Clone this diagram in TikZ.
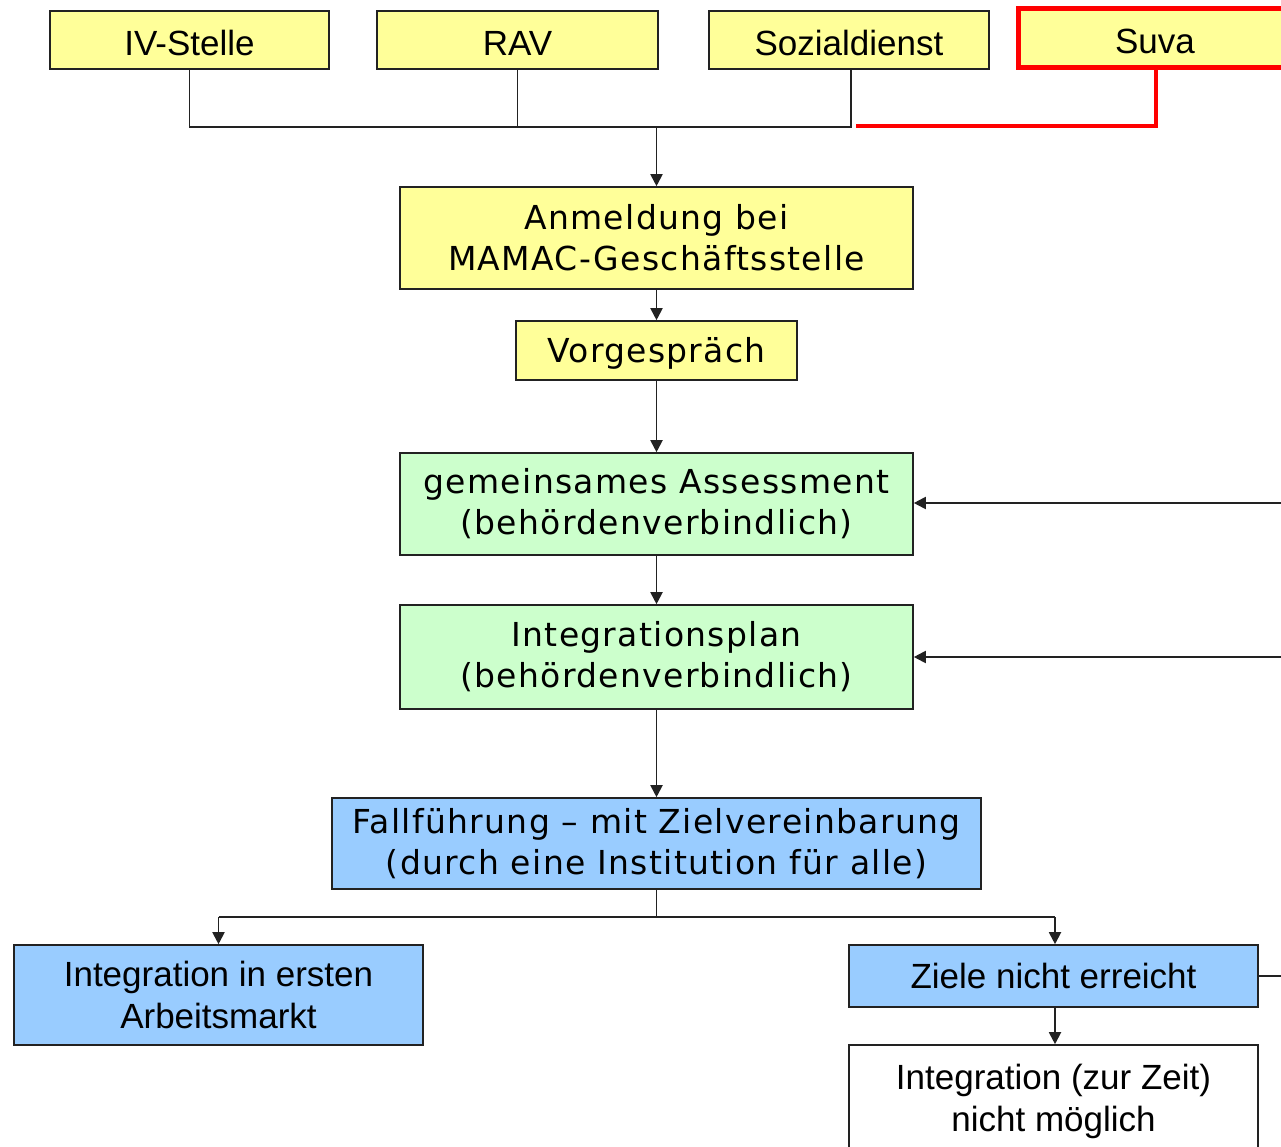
\documentclass[tikz,border=0pt]{standalone}
\usepackage{fontspec}
\setmainfont{Liberation Sans}
\newfontfamily\verd[LetterSpace=4]{DejaVu Sans}
\usetikzlibrary{arrows.meta}
\definecolor{cyel}{HTML}{FFFF99}
\definecolor{cgrn}{HTML}{CCFFCC}
\definecolor{cblu}{HTML}{99CCFF}
\definecolor{cline}{HTML}{222222}
\newcommand{\lowr}[1]{\raisebox{-3pt}[\height][\depth]{#1}}
\begin{document}
\begin{tikzpicture}[x=1pt,y=-1pt,
  box/.style={draw=cline, line width=1.6pt, inner sep=0pt, align=center,
    font=\fontsize{35}{42}\selectfont},
  vbox/.style={box, font=\verd\fontsize{33}{41}\selectfont},
  conn/.style={draw=cline, line width=1.9pt},
  arr/.style={conn, -{Triangle[length=12pt,width=12pt]}},
  redconn/.style={draw=red, line width=4pt}]
\useasboundingbox (0,0) rectangle (1281,1147);
\clip (0,0) rectangle (1281,1147);
\fill[white] (0,0) rectangle (1281,1147);

% top row
\node[box, fill=cyel, minimum width=279, minimum height=58] (iv) at (189.5,40) {\lowr{IV-Stelle}};
\node[box, fill=cyel, minimum width=281, minimum height=58] (rav) at (517.5,40) {\lowr{RAV}};
\node[box, fill=cyel, minimum width=280, minimum height=58] (soz) at (849,40) {\lowr{Sozialdienst}};
\node[box, fill=cyel, draw=red, line width=5pt, minimum width=274, minimum height=59] (suva) at (1155,38) {\lowr{\raisebox{-2pt}{Suva}}};

% middle column
\node[vbox, fill=cyel, minimum width=513, minimum height=102] (anm) at (656.5,238) {Anmeldung bei\\MAMAC-Geschäftsstelle};
\node[vbox, fill=cyel, minimum width=281, minimum height=59] (vor) at (656.5,350.5) {\lowr{Vorgespräch}};
\node[vbox, fill=cgrn, minimum width=513, minimum height=102] (ass) at (656.5,504) {gemeinsames Assessment\\(behördenverbindlich)};
\node[vbox, fill=cgrn, minimum width=513, minimum height=104] (plan) at (656.5,657) {Integrationsplan\\(behördenverbindlich)};
\node[vbox, fill=cblu, minimum width=649, minimum height=91] (fall) at (656.5,843.5) {Fallführung – mit Zielvereinbarung\\(durch eine Institution für alle)};

% bottom
\node[box, fill=cblu, minimum width=409, minimum height=100] (erst) at (218.5,995) {Integration in ersten\\Arbeitsmarkt};
\node[box, fill=cblu, minimum width=409, minimum height=62] (ziel) at (1053.5,976) {Ziele nicht erreicht};
\node[box, fill=white, minimum width=409, minimum height=112] (nicht) at (1053.5,1101) {Integration (zur Zeit)\\nicht möglich};

% connectors top
\coordinate (jl) at (189.5,127);
\coordinate (jm) at (656.5,127);
\coordinate (jr) at (851,127);
\coordinate (jred) at (856,126);
\draw[conn] (iv.south) -- (jl) -- (jr) -- (851,69);
\draw[conn] (rav.south) -- (517.5,127);
\draw[redconn] (1156,70) -- (1156,126) -- (jred);
\draw[arr] (jm) -- (anm.north);
\draw[arr] (anm.south) -- (vor.north);
\draw[arr] (vor.south) -- (ass.north);
\draw[arr] (ass.south) -- (plan.north);
\draw[arr] (plan.south) -- (fall.north);

% feedback lines from right
\coordinate (fa) at (1295,503);
\coordinate (fp) at (1295,657);
\coordinate (fz) at (1295,976);
\draw[arr] (fa) -- (ass.east |- fa);
\draw[arr] (fp) -- (plan.east |- fp);
\draw[conn] (ziel.east) -- (fz);

% split
\coordinate (sp) at (656.5,917);
\coordinate (spl) at (218.5,917);
\coordinate (spr) at (1055,917);
\draw[conn] (fall.south) -- (sp);
\draw[conn] (spl) -- (spr);
\draw[arr] (spl) -- (erst.north);
\draw[arr] (spr) -- (spr |- ziel.north);
\draw[arr] (ziel.south -| spr) -- (spr |- nicht.north);
\end{tikzpicture}
\end{document}
